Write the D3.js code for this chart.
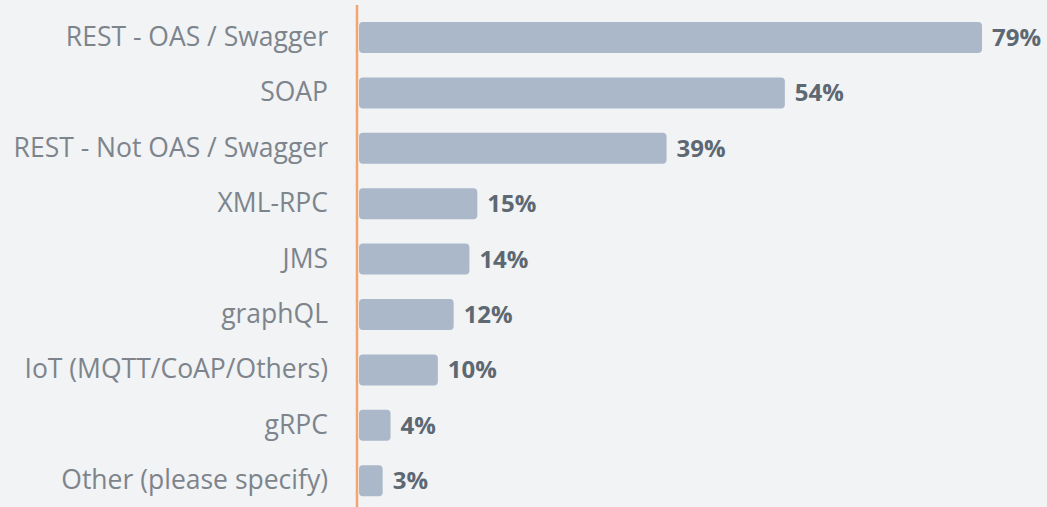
<!DOCTYPE html>
<html>
<head>
<meta charset="utf-8">
<script src="https://cdn.jsdelivr.net/npm/d3@7"></script>
<style>
  html, body { margin: 0; padding: 0; background: #f1f3f5; }
  svg { display: block; }
</style>
</head>
<body>
<svg width="1047" height="507"></svg>
<script>
// API types chart - horizontal bars, values in percent

const categories = [
    "REST - OAS / Swagger",
    "SOAP",
    "REST - Not OAS / Swagger",
    "XML-RPC",
    "JMS",
    "graphQL",
    "IoT (MQTT/CoAP/Others)",
    "gRPC",
    "Other (please specify)"
];
const values = [79, 54, 39, 15, 14, 12, 10, 4, 3];
const valueLabels = ["79%", "54%", "39%", "15%", "14%", "12%", "10%", "4%", "3%"];

const BARCOLOR = "#aab8c9";
const AXISCOLOR = "#f3a46f";

const svg = d3.select("svg"),
    width = +svg.attr("width"),
    height = +svg.attr("height");

const rows = categories.map((c, i) => ({cat: c, value: values[i], label: valueLabels[i]}));

// Scales
let x_scale = d3.scaleLinear().domain([0, 79]).range([359, 982]);
let y_scale = d3.scaleBand().domain(categories).range([9.8, 508.4])
    .paddingInner(0.44).paddingOuter(0.22);

// Bars
svg.append("g")
    .selectAll("rect")
    .data(rows)
    .enter().append("rect")
    .attr("x", x_scale(0))
    .attr("y", d => y_scale(d.cat))
    .attr("width", d => x_scale(d.value) - x_scale(0))
    .attr("height", y_scale.bandwidth())
    .attr("rx", 4)
    .attr("fill", BARCOLOR);

// Category labels (left axis, no ticks)
let yAxis = d3.axisLeft(y_scale).tickSize(0).tickPadding(0);
let axisG = svg.append("g")
    .attr("transform", "translate(328,0)")
    .call(yAxis);
axisG.select(".domain").remove();
axisG.selectAll("text")
    .attr("font-family", "'Open Sans', sans-serif")
    .attr("font-size", 26.5)
    .attr("fill", "#7d848c");

// Orange baseline
svg.append("line")
    .attr("x1", 357).attr("x2", 357)
    .attr("y1", 5).attr("y2", height)
    .attr("stroke", AXISCOLOR)
    .attr("stroke-width", 2.5);

// Value labels
svg.append("g")
    .selectAll("text")
    .data(rows)
    .enter().append("text")
    .attr("x", d => x_scale(d.value) + 10)
    .attr("y", d => y_scale(d.cat) + y_scale.bandwidth() / 2)
    .attr("dy", "0.35em")
    .attr("font-family", "'Open Sans', sans-serif")
    .attr("font-weight", "bold")
    .attr("font-size", 24)
    .attr("fill", "#5d6872")
    .text(d => d.label);
</script>
</body>
</html>
